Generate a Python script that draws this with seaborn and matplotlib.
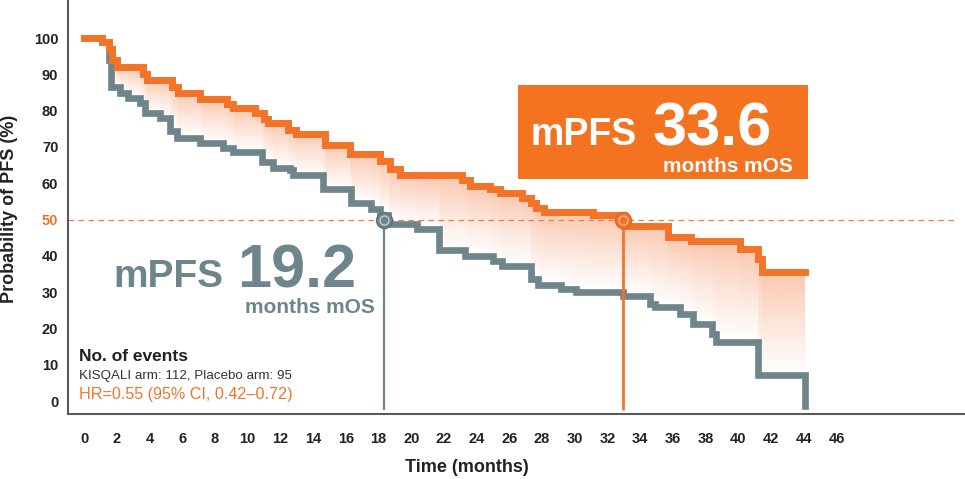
import numpy as np
import matplotlib
matplotlib.use("Agg")
import matplotlib.pyplot as plt
import seaborn as sns
from matplotlib.patches import Rectangle
from matplotlib.colors import to_rgb

# ---------------- data ----------------
kisqali_t = [0, 1.1, 1.5, 1.7, 2.0, 3.6, 3.85, 5.4, 5.75, 7.1, 8.75, 9.1, 10.45, 11.0,
             11.25, 12.45, 12.95, 14.75, 16.25, 18.1, 18.7, 19.3, 23.1, 23.6, 24.8, 25.4,
             26.8, 27.3, 27.6, 28.1, 31.1, 33.0, 35.7, 37.1, 40.1, 41.2, 41.45, 44.05]
kisqali_pfs = [100, 99, 97, 94, 92, 90, 88.4, 86.5, 85, 83.2, 81.8, 80.7, 79.5, 77.8,
               76.6, 74.7, 73.5, 70.5, 68, 66, 64, 62.3, 61, 59.3, 58.4, 57.4,
               56, 54.5, 53.2, 52.2, 51.2, 48.3, 45.3, 44, 42, 39, 35.5, 35.5]
placebo_t = [0, 1.1, 1.5, 1.65, 2.2, 2.7, 3.4, 3.7, 4.65, 5.25, 5.7, 7.1, 8.5, 9.1,
             10.9, 11.55, 12.6, 12.8, 14.6, 16.3, 17.55, 18.1, 18.6, 20.35, 21.7, 23.3,
             25.0, 25.55, 27.3, 27.75, 29.15, 30.1, 32.95, 34.6, 34.9, 36.4, 37.2, 38.4,
             38.6, 41.2, 44.05]
placebo_pfs = [100, 99, 94, 86.5, 84.8, 83.5, 82, 79.3, 78, 74.5, 72.4, 71, 69.7, 68.6,
               65.8, 64.2, 63.6, 62.3, 58.4, 54.5, 53, 51.2, 48.7, 47.4, 41.5, 40,
               38.6, 37.3, 33.5, 32.1, 31, 30, 28.8, 26.7, 26, 24, 21.2, 18.5,
               16.3, 7.2, -1.5]
median_t = [18.35, 32.95]          # placebo, kisqali (as drawn)
median_level = 50
x_ticks = list(range(0, 47, 2))
y_ticks = list(range(0, 101, 10))

ORANGE = "#F37328"
BOX = "#F37321"
GRAY = "#6E858C"
DARK = "#222222"

sns.set_style("white")
plt.rcParams["font.family"] = ["Liberation Sans", "DejaVu Sans"]

W, H = 965, 479
fig = plt.figure(figsize=(W / 100, H / 100), dpi=100)
ax = fig.add_axes([68 / W, 65 / H, 897 / W, 414 / H])
ax.set_xlim(-0.978, 53.85)
ax.set_ylim(-3.58, 110.5)

def fx(x):
    return x / W

def fy(y):
    return 1 - y / H

# ---------------- gradient fill between curves ----------------
kt, kv = np.array(kisqali_t), np.array(kisqali_pfs)
pt, pv = np.array(placebo_t), np.array(placebo_pfs)

def step_eval(ts, vs, x):
    idx = np.clip(np.searchsorted(ts, x, side="right") - 1, 0, len(vs) - 1)
    return vs[idx]

t0, t1, v0, v1 = 1.45, 44.05, -2.0, 100.0
tg = np.linspace(t0, t1, 1600)
vg = np.linspace(v0, v1, 700)
TT, VV = np.meshgrid(tg, vg)
up = step_eval(kt, kv, TT)
lo = step_eval(pt, pv, TT)
frac = np.where(up > lo, (VV - lo) / np.maximum(up - lo, 1e-6), 0)
inside = (VV >= lo) & (VV <= up)
alpha = np.where(inside, 0.38 * np.clip(frac, 0, 1) ** 1.1, 0)
rgba = np.zeros(TT.shape + (4,))
rgba[..., :3] = to_rgb("#F26A2A")
rgba[..., 3] = alpha
ax.imshow(rgba, extent=[t0, t1, v0, v1], origin="lower", aspect="auto",
          interpolation="bilinear", zorder=1)

# ---------------- 50% reference line ----------------
ax.axhline(median_level, xmin=0, xmax=(958 - 68) / 897, color="#F47B4B", lw=0.9,
           dashes=(4.5, 3.5), zorder=2)

# ---------------- KM curves ----------------
sns.lineplot(x=placebo_t, y=placebo_pfs, drawstyle="steps-post", estimator=None,
             sort=False, color=GRAY, linewidth=4.8, ax=ax, zorder=3,
             solid_capstyle="projecting", solid_joinstyle="miter")
sns.lineplot(x=kisqali_t, y=kisqali_pfs, drawstyle="steps-post", estimator=None,
             sort=False, color=ORANGE, linewidth=5.0, ax=ax, zorder=4,
             solid_capstyle="projecting", solid_joinstyle="miter")

# ---------------- medians ----------------
ax.vlines(median_t[0], -2.5, median_level, colors=GRAY, lw=1.6, zorder=3)
ax.vlines(median_t[1], -2.5, median_level, colors=ORANGE, lw=2.0, zorder=4)
ax.plot(median_t[0], median_level, "o", ms=11.5, mfc=GRAY, mec="#5d7178", mew=1, zorder=5)
ax.plot(median_t[0], median_level, "o", ms=6.5, mfc="none", mec="white", mew=0.8,
        alpha=0.7, zorder=6)
ax.plot(median_t[1], median_level, "o", ms=11.5, mfc=ORANGE, mec="#e8661c", mew=1, zorder=5)
ax.plot(median_t[1], median_level, "o", ms=6.5, mfc="none", mec="#FFD2B8", mew=0.8,
        alpha=0.8, zorder=6)

# ---------------- axes styling ----------------
for s in ["top", "right"]:
    ax.spines[s].set_visible(False)
for s in ["left", "bottom"]:
    ax.spines[s].set_color("#5a5a5a")
    ax.spines[s].set_linewidth(1.5)
ax.set_xticks(x_ticks)
ax.set_yticks(y_ticks)
ax.set_xticklabels([str(v) for v in x_ticks], fontsize=10.5, fontweight="bold", color=DARK)
ax.set_yticklabels([str(v) for v in y_ticks], fontsize=10.5, fontweight="bold", color=DARK)
ax.tick_params(axis="both", length=0)
ax.tick_params(axis="y", pad=7)
ax.tick_params(axis="x", pad=13)
ax.get_yticklabels()[5].set_color(ORANGE)
ax.set_xlabel("")
ax.set_ylabel("")

fig.text(fx(10), fy(209), "Probability of PFS (%)", rotation=90, ha="center", va="center",
         fontsize=13, fontweight="bold", color=DARK)
fig.text(fx(467), fy(467), "Time (months)", ha="center", va="center",
         fontsize=13, fontweight="bold", color=DARK)

# ---------------- placebo median callout ----------------
fig.text(fx(223), fy(287), "mPFS", ha="right", va="baseline", fontsize=28,
         fontweight="bold", color=GRAY)
fig.text(fx(237), fy(287), "19.2", ha="left", va="baseline", fontsize=44,
         fontweight="bold", color=GRAY)
fig.text(fx(375), fy(313), "months mOS", ha="right", va="baseline", fontsize=15,
         fontweight="bold", color=GRAY)

# ---------------- kisqali median callout ----------------
fig.add_artist(Rectangle((fx(518), fy(179)), (808 - 518) / W, (179 - 85) / H,
                         transform=fig.transFigure, facecolor=BOX, edgecolor="none",
                         zorder=7))
fig.text(fx(637), fy(145), "mPFS", ha="right", va="baseline", fontsize=27,
         fontweight="bold", color="white", zorder=8)
fig.text(fx(653), fy(145), "33.6", ha="left", va="baseline", fontsize=44,
         fontweight="bold", color="white", zorder=8)
fig.text(fx(793), fy(172), "months mOS", ha="right", va="baseline", fontsize=15,
         fontweight="bold", color="white", zorder=8)

# ---------------- events / HR ----------------
fig.text(fx(79), fy(361), "No. of events", ha="left", va="baseline", fontsize=12.5,
         fontweight="bold", color=DARK)
fig.text(fx(79), fy(379), "KISQALI arm: 112, Placebo arm: 95", ha="left", va="baseline",
         fontsize=9.6, color="#333333")
fig.text(fx(79), fy(399), "HR=0.55 (95% CI, 0.42\u20130.72)", ha="left", va="baseline",
         fontsize=11.6, color=ORANGE)

fig.savefig("out.png", dpi=100)
